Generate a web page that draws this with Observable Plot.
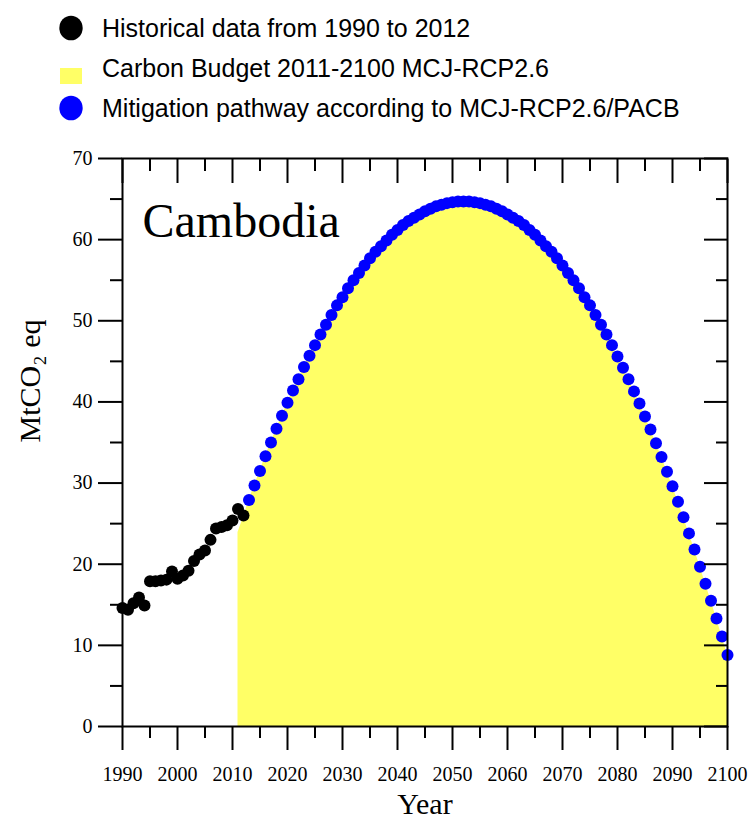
<!DOCTYPE html>
<html>
<head>
<meta charset="utf-8">
<script src="https://cdn.jsdelivr.net/npm/d3@7"></script>
<script src="https://cdn.jsdelivr.net/npm/@observablehq/plot@0.6"></script>
<style>
  html, body { margin: 0; padding: 0; background: #fff; }
  #chart { width: 748px; }
  #chart svg { display: block; }
</style>
</head>
<body>
<div id="chart"></div>
<script>
// ---------- data ----------
const countryName = "Cambodia";
const legendLabels = [
  "Historical data from 1990 to 2012",
  "Carbon Budget 2011-2100 MCJ-RCP2.6",
  "Mitigation pathway according to MCJ-RCP2.6/PACB"
];
const histYears = d3.range(1990, 2013);
const histValues = [14.6, 14.4, 15.2, 15.9, 14.9, 17.9, 17.9, 18.0, 18.1, 19.1,
                    18.2, 18.6, 19.2, 20.4, 21.2, 21.7, 23.0, 24.4, 24.6, 24.8,
                    25.4, 26.8, 26.0];
const budgetLeadYears = [2011, 2012];
const budgetLeadValues = [23.9, 25.8];
const pathYears = d3.range(2013, 2101);
const pathValues = [
  27.9, 29.7, 31.5, 33.3, 35.0, 36.7, 38.3, 39.9, 41.4, 42.8,   // 2013-2022
  44.3, 45.7, 47.0, 48.3, 49.5, 50.7, 51.9, 52.9, 54.0, 55.0,   // 2023-2032
  55.9, 56.8, 57.7, 58.5, 59.2, 59.9, 60.6, 61.2, 61.8, 62.3,   // 2033-2042
  62.7, 63.1, 63.5, 63.8, 64.1, 64.3, 64.5, 64.6, 64.7, 64.7,   // 2043-2052
  64.7, 64.6, 64.5, 64.3, 64.1, 63.8, 63.5, 63.1, 62.7, 62.3,   // 2053-2062
  61.8, 61.2, 60.6, 59.9, 59.2, 58.5, 57.7, 56.8, 55.9, 55.0,   // 2063-2072
  54.0, 52.9, 51.9, 50.7, 49.5, 48.3, 47.0, 45.6, 44.2, 42.8,   // 2073-2082
  41.3, 39.8, 38.2, 36.6, 34.9, 33.2, 31.4, 29.6, 27.7, 25.8,   // 2083-2092
  23.8, 21.8, 19.7, 17.6, 15.5, 13.3, 11.1, 8.8                 // 2093-2100
];
const xMajorTicks = [1990, 2000, 2010, 2020, 2030, 2040, 2050, 2060, 2070, 2080, 2090, 2100];
const xMinorTicks = [1995, 2005, 2015, 2025, 2035, 2045, 2055, 2065, 2075, 2085, 2095];
const yMajorTicks = [0, 10, 20, 30, 40, 50, 60, 70];
const yMinorTicks = [5, 15, 25, 35, 45, 55, 65];
const xTitle = "Year";
const yTitle = "MtCO\u2082 eq";

// ---------- tables ----------
const hist = histYears.map((year, i) => ({year, value: histValues[i]}));
const path = pathYears.map((year, i) => ({year, value: pathValues[i]}));
const budget = budgetLeadYears.map((year, i) => ({year, value: budgetLeadValues[i]})).concat(path);

const BLACK = "#000000", YELLOW = "#ffff66", BLUE = "#0000ff";
const serif = "'Liberation Serif', 'Times New Roman', Times, serif";
const sans = "'Liberation Sans', Arial, Helvetica, sans-serif";

// ---------- legend (above the plot) ----------
const legend = d3.create("svg").attr("width", 748).attr("height", 140);
const legRows = [
  {kind: "dot", color: BLACK, cy: 28, ty: 37},
  {kind: "rect", color: YELLOW, cy: 76, ty: 77},
  {kind: "dot", color: BLUE, cy: 108, ty: 117}
];
legRows.forEach((r, i) => {
  if (r.kind === "dot") {
    legend.append("ellipse").attr("cx", 71).attr("cy", r.cy).attr("rx", 11.7).attr("ry", 12.3).attr("fill", r.color);
  } else {
    legend.append("rect").attr("x", 60).attr("y", r.cy - 8).attr("width", 22).attr("height", 16).attr("fill", r.color);
  }
  legend.append("text").attr("x", 102).attr("y", r.ty)
    .attr("font-family", sans).attr("font-size", 25).attr("fill", BLACK)
    .text(legendLabels[i]);
});
document.getElementById("chart").appendChild(legend.node());

// ---------- plot ----------
const plot = Plot.plot({
  width: 748,
  height: 682,
  marginTop: 18,
  marginBottom: 96,
  marginLeft: 122,
  marginRight: 21,
  style: {fontFamily: serif, fontSize: "20px", color: BLACK, background: "#fff", overflow: "visible"},
  x: {domain: [1990, 2100]},
  y: {domain: [0, 70]},
  marks: [
    Plot.areaY(budget, {x: "year", y: "value", fill: YELLOW, curve: "linear"}),
    Plot.dot(hist, {x: "year", y: "value", r: 6, fill: BLACK}),
    Plot.dot(path, {x: "year", y: "value", r: 6, fill: BLUE}),
    Plot.frame({stroke: BLACK, strokeWidth: 2}),
    // bottom axis: outward ticks + labels
    Plot.axisX({anchor: "bottom", ticks: xMajorTicks, tickSize: 24, tickPadding: 16, strokeWidth: 2, stroke: BLACK,
                tickFormat: d => String(d), label: null, fontSize: 20}),
    Plot.axisX({anchor: "bottom", ticks: xMinorTicks, tickSize: 12, strokeWidth: 2, stroke: BLACK, tickFormat: () => "", label: null}),
    // top axis: inward ticks
    Plot.axisX({anchor: "top", ticks: xMajorTicks, tickSize: 24, dy: 24, strokeWidth: 2, stroke: BLACK, tickFormat: () => "", label: null}),
    Plot.axisX({anchor: "top", ticks: xMinorTicks, tickSize: 12, dy: 12, strokeWidth: 2, stroke: BLACK, tickFormat: () => "", label: null}),
    // left axis: outward ticks + labels
    Plot.axisY({anchor: "left", ticks: yMajorTicks, tickSize: 24, tickPadding: 6, strokeWidth: 2, stroke: BLACK,
                tickFormat: d => String(d), label: null, fontSize: 20}),
    Plot.axisY({anchor: "left", ticks: yMinorTicks, tickSize: 12, strokeWidth: 2, stroke: BLACK, tickFormat: () => "", label: null}),
    // right axis: inward ticks
    Plot.axisY({anchor: "right", ticks: yMajorTicks, tickSize: 24, dx: -24, strokeWidth: 2, stroke: BLACK, tickFormat: () => "", label: null}),
    Plot.axisY({anchor: "right", ticks: yMinorTicks, tickSize: 12, dx: -12, strokeWidth: 2, stroke: BLACK, tickFormat: () => "", label: null}),
    // titles
    Plot.text([xTitle], {frameAnchor: "bottom", text: d => d, dy: 78, fontSize: 30, lineAnchor: "middle", fill: BLACK}),
    Plot.text([yTitle], {frameAnchor: "left", text: d => d, dx: -92, rotate: -90, fontSize: 30, lineAnchor: "middle", fill: BLACK}),
    Plot.text([countryName], {frameAnchor: "top-left", text: d => d, dx: 20, dy: 44, fontSize: 48,
                              textAnchor: "start", lineAnchor: "top", fill: BLACK})
  ]
});
document.getElementById("chart").appendChild(plot);
</script>
</body>
</html>
